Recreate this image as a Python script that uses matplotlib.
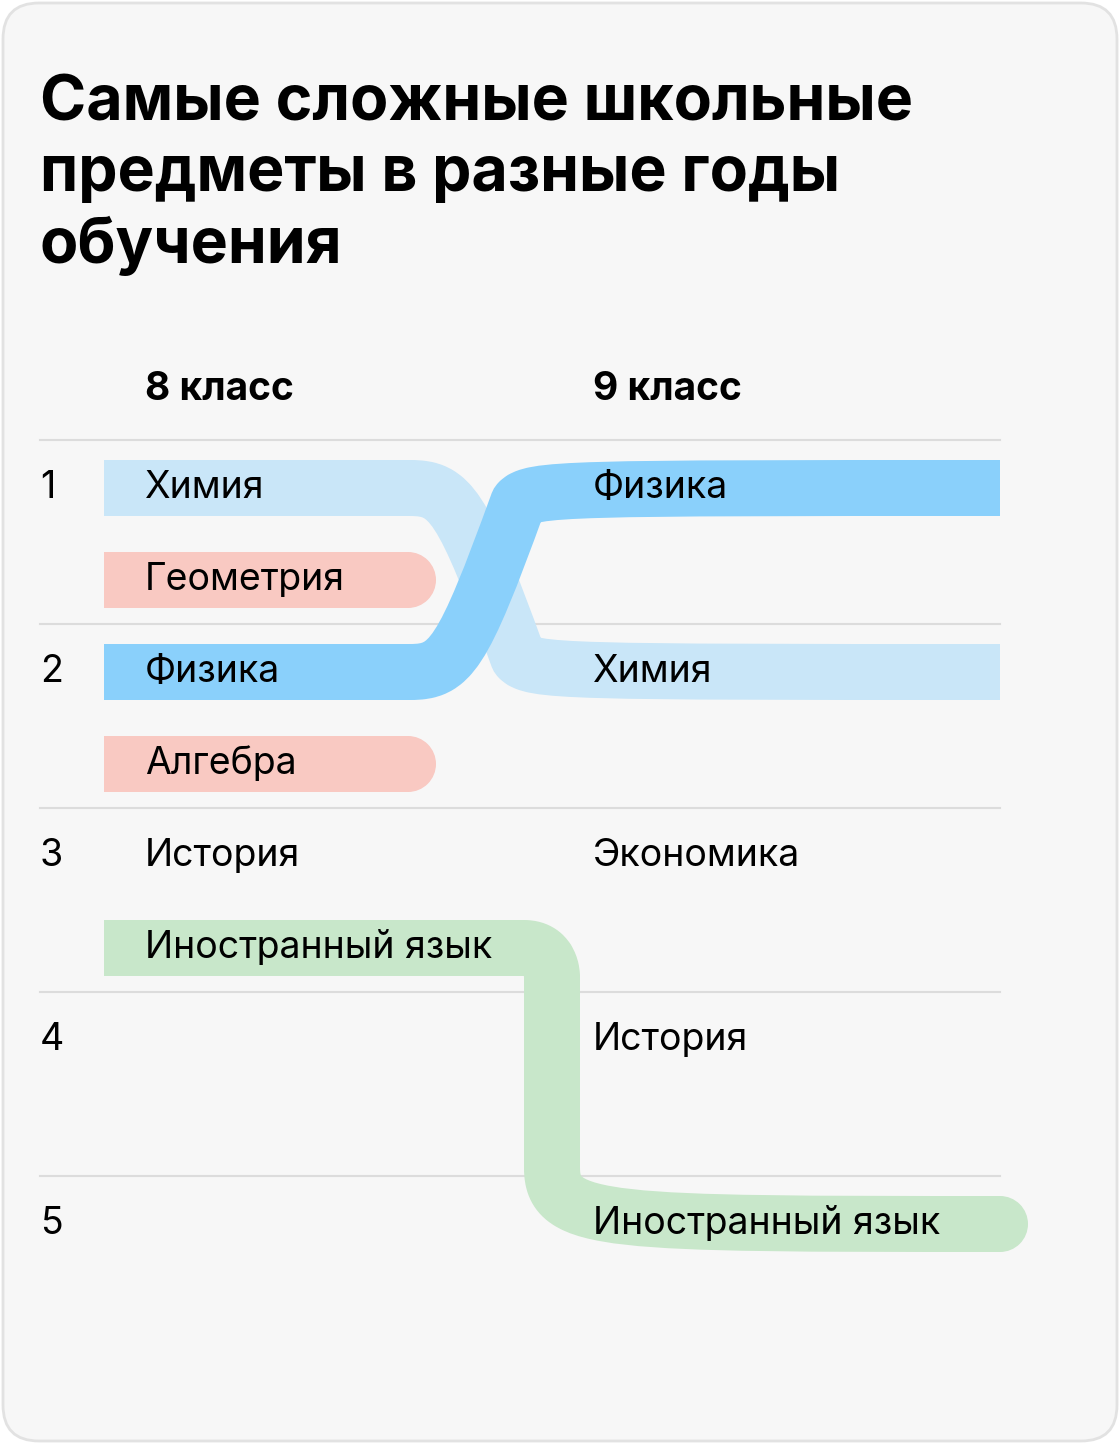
import matplotlib
matplotlib.use('Agg')
import matplotlib.pyplot as plt
from matplotlib.path import Path
from matplotlib.patches import PathPatch, FancyBboxPatch, Circle

title = 'Самые сложные школьные\nпредметы в разные годы\nобучения'
col_titles = ['8 класс', '9 класс']
ranks = [1, 2, 3, 4, 5]

# (label, position in rank units) per class
grade8 = [('Химия', 1), ('Геометрия', 1.5), ('Физика', 2), ('Алгебра', 2.5),
          ('История', 3), ('Иностранный язык', 3.5)]
grade9 = [('Физика', 1), ('Химия', 2), ('Экономика', 3), ('История', 4),
          ('Иностранный язык', 5)]

# flows: label, start pos (8), end pos (9), colour
flows = [('Химия', 1, 2, '#c9e6f8'), ('Физика', 2, 1, '#8ad0fb'),
         ('Иностранный язык', 3.5, 5, '#c8e7ca')]
stubs = [('Геометрия', 1.5, '#f9c9c2'), ('Алгебра', 2.5, '#f9c9c2')]

W, H = 1120, 1444
fig = plt.figure(figsize=(W / 100, H / 100), dpi=100)
fig.patch.set_facecolor('white')
ax = fig.add_axes([0, 0, 1, 1])
ax.set_xlim(0, W)
ax.set_ylim(H, 0)
ax.axis('off')

ax.add_patch(FancyBboxPatch((3, 3), W - 6, H - 6, boxstyle='round,pad=0,rounding_size=36',
                            fc='#f7f7f7', ec='#e2e2e2', lw=2))

font = 'Inter'
ax.text(40, 100, title, fontsize=45, fontweight='bold', family=font, va='center',
        linespacing=1.25, ha='left')
ax.texts[-1].set_position((40, 175))

X8, X9 = 145, 593
for x, t in zip([X8, X9], col_titles):
    ax.text(x, 390, t, fontsize=28, fontweight='bold', family=font, va='center')

def ypos(r):
    return 488 + (r - 1) * 184

for r in ranks:
    ax.plot([40, 1000], [ypos(r) - 48] * 2, color='#dcdcdc', lw=1.5, zorder=1)
    ax.text(40, ypos(r), str(r), fontsize=27, family=font, va='center')

BW = 56 * 72 / 100  # band width in points

def band(verts, codes, color):
    ax.add_patch(PathPatch(Path(verts, codes), fc='none', ec=color, lw=BW,
                           capstyle='butt', joinstyle='round', zorder=2))

M, L, C = Path.MOVETO, Path.LINETO, Path.CURVE4
for label, a, b, color in flows:
    ya, yb = ypos(a), ypos(b)
    if label == 'Иностранный язык':
        xv = 552
        verts = [(104, ya), (xv - 28, ya), (xv, ya), (xv, ya + 28), (xv, ya + 28),
                 (xv, yb - 56), (xv, yb), (xv + 56, yb), (1000, yb)]
        codes = [M, L, C, C, C, L, C, C, L]
        band(verts, codes, color)
        ax.add_patch(Circle((1000, yb), 28, fc=color, ec='none', zorder=2))
    else:
        verts = [(104, ya), (410, ya), (450, ya), (470, (ya + yb) / 2), (490, (ya + yb) / 2),
                 (510, (ya + yb) / 2), (530, yb), (570, yb), (1000, yb)]
        codes = [M, L, C, C, L, C, C, L, L]
        verts = [(104, ya), (410, ya), (450, ya), (462, ya + (yb - ya) * 0.08),
                 (518, yb - (yb - ya) * 0.08), (530, yb), (570, yb), (1000, yb)]
        codes = [M, L, C, C, L, C, C, L]
        band(verts, codes, color)

for label, p, color in stubs:
    y = ypos(p)
    ax.plot([104, 408], [y, y], color=color, lw=BW, solid_capstyle='butt', zorder=2)
    ax.add_patch(Circle((408, y), 28, fc=color, ec='none', zorder=2))

for label, p in grade8:
    ax.text(X8, ypos(p), label, fontsize=27, family=font, va='center', zorder=3)
for label, p in grade9:
    ax.text(X9, ypos(p), label, fontsize=27, family=font, va='center', zorder=3)

fig.savefig('out.png', dpi=100, facecolor='white')
